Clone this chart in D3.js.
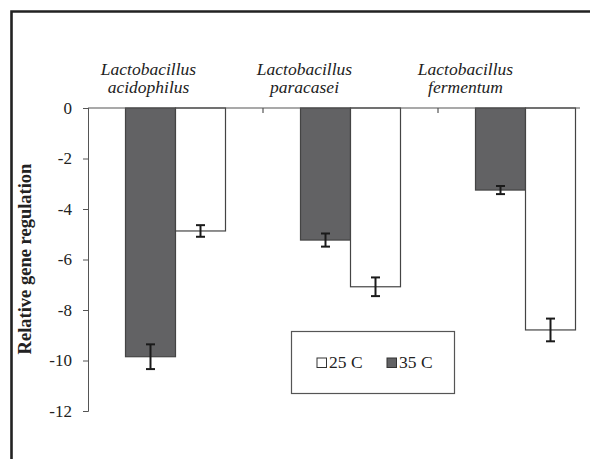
<!DOCTYPE html>
<html><head><meta charset="utf-8">
<script src="https://cdn.jsdelivr.net/npm/d3@7/dist/d3.min.js"></script>
<style>
body{margin:0;background:#fff}
svg{display:block}
svg text{font-family:"Liberation Serif","Times New Roman",serif !important;}
</style>
</head><body><svg id="c" width="590" height="459" font-family="Liberation Serif"></svg>
<script>
const categories = ["Lactobacillus acidophilus", "Lactobacillus paracasei", "Lactobacillus fermentum"];
const labelLine1 = ["Lactobacillus", "Lactobacillus", "Lactobacillus"];
const labelLine2 = ["acidophilus", "paracasei", "fermentum"];
const series = ["35 C", "25 C"];
const values35 = [-9.85, -5.23, -3.25];
const errors35 = [0.49, 0.26, 0.16];
const values25 = [-4.87, -7.08, -8.79];
const errors25 = [0.23, 0.37, 0.45];
const yTicks = [0, -2, -4, -6, -8, -10, -12];
const legendOrder = ["25 C", "35 C"];

const svg = d3.select("#c");
const fillOf = {"35 C": "#626264", "25 C": "#ffffff"};
const serifFace = '"Liberation Serif"';

// frame
svg.append("path").attr("d", "M11.5,459 L11.5,11.5 L590,11.5")
  .attr("fill", "none").attr("stroke", "#222").attr("stroke-width", 2.6);

const y = d3.scaleLinear().domain([-12, 0]).range([411, 108]);
const x0 = d3.scaleBand().domain(categories).range([88, 613]);
const x1 = d3.scaleBand().domain(series).range([0, 100]);
const xOff = (x0.bandwidth() - 100) / 2;

// y axis
const ya = svg.append("g").attr("transform", "translate(88,0)")
  .call(d3.axisLeft(y).tickValues(yTicks).tickSize(5).tickPadding(11).tickFormat(d => String(d)));
ya.attr("font-family", null).attr("font-size", null);
ya.select(".domain").attr("stroke", "#555").attr("d", "M-5,411.5H0.5V108");
ya.selectAll(".tick line").attr("stroke", "#555");
ya.selectAll("text").style("font-family", serifFace).style("font-size", "17px").attr("fill", "#222");

// bars
const rows = [];
categories.forEach((c, i) => {
  rows.push({c, s: "35 C", v: values35[i], e: errors35[i]});
  rows.push({c, s: "25 C", v: values25[i], e: errors25[i]});
});
svg.selectAll("rect.bar").data(rows).join("rect").attr("class", "bar")
  .attr("x", d => x0(d.c) + xOff + x1(d.s))
  .attr("y", y(0))
  .attr("width", x1.bandwidth())
  .attr("height", d => y(d.v) - y(0))
  .attr("fill", d => fillOf[d.s]).attr("stroke", "#444").attr("stroke-width", 1.2);

// x axis line (zero)
svg.append("line").attr("x1", 88).attr("x2", 580).attr("y1", y(0)).attr("y2", y(0))
  .attr("stroke", "#555").attr("stroke-width", 1.2);
// category dividers
categories.slice(1).forEach(c => {
  svg.append("line").attr("x1", x0(c)).attr("x2", x0(c)).attr("y1", y(0)).attr("y2", y(0) + 5)
    .attr("stroke", "#555").attr("stroke-width", 1.2);
});

// error bars
const eb = svg.selectAll("g.err").data(rows).join("g").attr("class", "err")
  .attr("stroke", "#1a1a1a").attr("stroke-width", 2);
eb.append("line").attr("x1", d => x0(d.c) + xOff + x1(d.s) + x1.bandwidth() / 2)
  .attr("x2", d => x0(d.c) + xOff + x1(d.s) + x1.bandwidth() / 2)
  .attr("y1", d => y(d.v + d.e)).attr("y2", d => y(d.v - d.e));
[1, -1].forEach(k => {
  eb.append("line").attr("x1", d => x0(d.c) + xOff + x1(d.s) + x1.bandwidth() / 2 - 4.5)
    .attr("x2", d => x0(d.c) + xOff + x1(d.s) + x1.bandwidth() / 2 + 4.5)
    .attr("y1", d => y(d.v + k * d.e)).attr("y2", d => y(d.v + k * d.e));
});

// category labels (placed left of group centres as in the original)
const labelShift = [-27, -46, -60];
categories.forEach((c, i) => {
  const cx = x0(c) + x0.bandwidth() / 2 + labelShift[i];
  const t = svg.append("text").attr("x", cx).attr("text-anchor", "middle")
    .style("font-family", serifFace).style("font-style", "italic").style("font-size", "17.5px").attr("fill", "#222");
  t.append("tspan").attr("x", cx).attr("y", 75).text(labelLine1[i]);
  t.append("tspan").attr("x", cx).attr("y", 93).text(labelLine2[i]);
});

// y title
svg.append("text").attr("transform", "translate(31,259) rotate(-90)")
  .attr("text-anchor", "middle").style("font-family", serifFace).style("font-weight", "bold")
  .style("font-size", "18.5px").attr("fill", "#222").text("Relative gene regulation");

// legend
const lg = svg.append("g");
lg.append("rect").attr("x", 291.5).attr("y", 331.5).attr("width", 163).attr("height", 62)
  .attr("fill", "#fff").attr("stroke", "#555").attr("stroke-width", 1.2);
const lx = [317, 387];
legendOrder.forEach((s, i) => {
  lg.append("rect").attr("x", lx[i]).attr("y", 358).attr("width", 9.5).attr("height", 9.5)
    .attr("fill", fillOf[s]).attr("stroke", "#333").attr("stroke-width", 1);
  lg.append("text").attr("x", lx[i] + 12).attr("y", 368).style("font-family", serifFace)
    .style("font-size", "17.5px").attr("fill", "#222").text(s);
});
</script></body></html>
